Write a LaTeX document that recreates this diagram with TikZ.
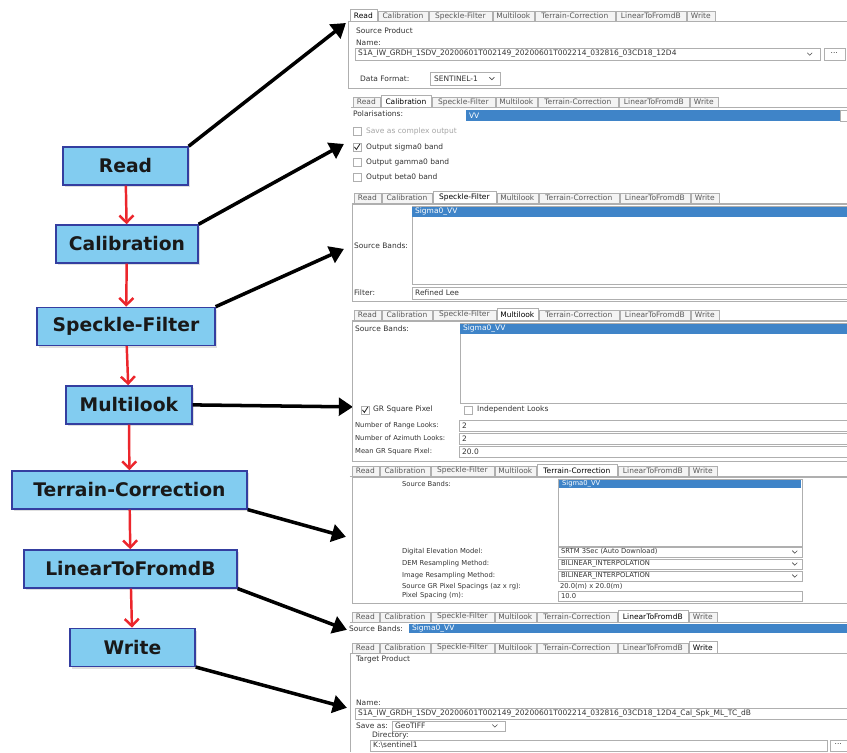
\documentclass[tikz,border=0pt]{standalone}
\usepackage{fontspec}
\setmainfont{DejaVu Sans}
\usetikzlibrary{arrows.meta,shadows}

\definecolor{boxfill}{RGB}{130,204,240}
\definecolor{boxline}{RGB}{52,62,160}
\definecolor{flowred}{RGB}{236,38,44}
\definecolor{selblue}{RGB}{63,132,200}
\definecolor{guigray}{RGB}{175,175,175}
\definecolor{tabgray}{RGB}{244,244,244}

\tikzset{
    procbox/.style={draw=boxline, fill=boxfill, line width=1.2pt, minimum height=1.14cm, inner sep=0pt,
        font=\fontsize{16}{19}\selectfont\bfseries, text=black!90,
        drop shadow={shadow xshift=2pt, shadow yshift=-2pt, opacity=0.25}},
    redflow/.style={draw=flowred, line width=2.1pt, -{Straight Barb[length=6pt,width=12pt]}},
    bigarrow/.style={line width=3pt, -{Triangle[length=12pt,width=15pt]}},
    gui/.style={font=\fontsize{6.4}{7}\selectfont, inner sep=0pt, anchor=west, text=black!80},
    guismall/.style={font=\fontsize{5.8}{6.5}\selectfont, inner sep=0pt, anchor=west, text=black!80},
    seltext/.style={gui, text=white},
    selsmall/.style={guismall, text=white},
    guiline/.style={draw=guigray, line width=0.4pt},
    field/.style={draw=guigray, fill=white, line width=0.4pt},
    tabbox/.style={draw=guigray, fill=tabgray, line width=0.4pt},
    tabsel/.style={draw=guigray, line width=0.4pt}
}

%% tab strip of one panel: x, y (top), selected tab, prefix for the node names
\newcommand{\tabrow}[4]{%
    \draw[guiline] (#1-2,#2+10) -- (847,#2+10);
    \foreach \s/\w/\tname [count=\i] in {0/27/Read,28/50/Calibration,79/63/Speckle-Filter,143/41/Multilook,185/80/Terrain-Correction,266/70/LinearToFromdB,337/28/Write}{%
        \ifnum\i=#3\relax
            \fill[white] (#1+\s,#2-1.5) rectangle (#1+\s+\w,#2+10.4);
            \draw[tabsel] (#1+\s,#2+10) -- (#1+\s,#2-1.5) -- (#1+\s+\w,#2-1.5) -- (#1+\s+\w,#2+10);
            \node[gui, anchor=center, text=black] (#4-\i) at (#1+\s+\w/2,#2+4.5) {\tname};
        \else
            \draw[tabbox] (#1+\s,#2) rectangle (#1+\s+\w,#2+10);
            \node[gui, anchor=center, text=black!65] (#4-\i) at (#1+\s+\w/2,#2+5) {\tname};
        \fi
    }%
}
%% check box: x (left), y (middle), 1 = ticked
\newcommand{\chkbox}[3]{%
    \draw[field] (#1,#2-4) rectangle (#1+8,#2+4);
    \ifnum#3=1\relax
        \draw[line width=0.7pt, black!85] (#1+1.5,#2) -- (#1+3.5,#2+2.5) -- (#1+7,#2-3);
    \fi
}
%% little chevron of a combo box
\newcommand{\dropv}[2]{\draw[line width=0.5pt, black!70] (#1-2.5,#2-1.2) -- (#1,#2+1.3) -- (#1+2.5,#2-1.2);}

\begin{document}
\begin{tikzpicture}[x=0.03cm, y=-0.03cm]
    \fill[white] (0,0) rectangle (847,752);

    %%the processing chain
    \node[procbox, minimum width=3.75cm] (read) at (125.5,166) {Read};
    \node[procbox, minimum width=4.26cm] (calib) at (127,244) {Calibration};
    \node[procbox, minimum width=5.34cm] (speckle) at (126,326.5) {Speckle-Filter};
    \node[procbox, minimum width=3.78cm] (multi) at (129,405) {Multilook};
    \node[procbox, minimum width=7.05cm] (terrain) at (129.5,490) {Terrain-Correction};
    \node[procbox, minimum width=6.39cm] (lindb) at (130.5,569) {LinearToFromdB};
    \node[procbox, minimum width=3.75cm] (write) at (132.5,647.5) {Write};

    \draw[redflow] (read) -- (calib);
    \draw[redflow] (calib) -- (speckle);
    \draw[redflow] (speckle) -- (multi);
    \draw[redflow] (multi) -- (terrain);
    \draw[redflow] (terrain) -- (lindb);
    \draw[redflow] (lindb) -- (write);

    %%arrows to the panels
    \coordinate (toRead) at (346,23);
    \coordinate (toCalib) at (344,144);
    \coordinate (toSpeckle) at (344,249);
    \coordinate (toMulti) at (353,407);
    \coordinate (toTerrain) at (346,537);
    \coordinate (toLindb) at (347,630);
    \coordinate (toWrite) at (347,708);
    \draw[bigarrow] (read.north east) -- (toRead);
    \draw[bigarrow] (calib.north east) -- (toCalib);
    \draw[bigarrow] (speckle.north east) -- (toSpeckle);
    \draw[bigarrow] (multi.east) -- (toMulti);
    \draw[bigarrow] (terrain.south east) -- (toTerrain);
    \draw[bigarrow] (lindb.south east) -- (toLindb);
    \draw[bigarrow] (write.south east) -- (toWrite);

    %%Read
    \tabrow{350}{11}{1}{rdTab}
    \draw[guiline] (348,21) -- (348,88) -- (847,88);
    \node[gui] (rdSrc) at (356,31) {Source Product};
    \node[gui] (rdNameLbl) at (356,43) {Name:};
    \draw[field] (355,48) rectangle (820,60);
    \node[gui] (rdName) at (358,54) {S1A\_IW\_GRDH\_1SDV\_20200601T002149\_20200601T002214\_032816\_03CD18\_12D4};
    \dropv{810}{54}
    \draw[field] (824,48) rectangle (845,60);
    \node[gui, anchor=center] (rdBtn) at (834.5,53) {...};
    \node[gui] (rdFmtLbl) at (360,78.5) {Data Format:};
    \draw[field] (430,72) rectangle (500,85);
    \node[gui] (rdFmt) at (434,78.5) {SENTINEL-1};
    \dropv{492}{78.5}

    %%Calibration
    \tabrow{353}{97}{2}{caTab}
    \node[gui] (caPolLbl) at (353,114) {Polarisations:};
    \fill[selblue] (466,110) rectangle (840,121);
    \node[seltext] (caPol) at (469,115.5) {VV};
    \draw[field] (840,110) rectangle (847,121);
    \chkbox{353}{131}{0}
    \node[gui, text=black!35] (caCplx) at (366,131) {Save as complex output};
    \chkbox{353}{147}{1}
    \node[gui] (caSig) at (366,147) {Output sigma0 band};
    \chkbox{353}{162}{0}
    \node[gui] (caGam) at (366,162) {Output gamma0 band};
    \chkbox{353}{177}{0}
    \node[gui] (caBet) at (366,177) {Output beta0 band};

    %%Speckle-Filter
    \tabrow{354}{193}{3}{spTab}
    \draw[guiline] (352,204) rectangle (847,301);
    \draw[field] (412,206) rectangle (847,284);
    \fill[selblue] (412,207) rectangle (847,217);
    \node[seltext] (spBand) at (415,212) {Sigma0\_VV};
    \node[gui] (spSrcLbl) at (354,246) {Source Bands:};
    \node[gui] (spFltLbl) at (354,293) {Filter:};
    \draw[field] (412,287) rectangle (847,299);
    \node[gui] (spFlt) at (415,293) {Refined Lee};

    %%Multilook
    \tabrow{354}{310}{4}{mlTab}
    \draw[guiline] (352,321) rectangle (847,461);
    \node[gui] (mlSrcLbl) at (355,329) {Source Bands:};
    \draw[field] (460,323) rectangle (847,403);
    \fill[selblue] (460,324) rectangle (847,334);
    \node[seltext] (mlBand) at (463,329) {Sigma0\_VV};
    \chkbox{361}{410}{1}
    \node[gui] (mlGr) at (373,410) {GR Square Pixel};
    \chkbox{464}{410}{0}
    \node[gui] (mlInd) at (477,410) {Independent Looks};
    \node[guismall] (mlRgLbl) at (355,425.5) {Number of Range Looks:};
    \draw[field] (459,420) rectangle (847,431);
    \node[gui] (mlRg) at (462,425.5) {2};
    \node[guismall] (mlAzLbl) at (355,438.5) {Number of Azimuth Looks:};
    \draw[field] (459,433) rectangle (847,444);
    \node[gui] (mlAz) at (462,438.5) {2};
    \node[guismall] (mlMeanLbl) at (355,451.5) {Mean GR Square Pixel:};
    \draw[field] (459,446) rectangle (847,457);
    \node[gui] (mlMean) at (462,451.5) {20.0};

    %%Terrain-Correction
    \tabrow{352}{466}{5}{tcTab}
    \draw[guiline] (352,477) rectangle (847,603);
    \node[guismall] (tcSrcLbl) at (402,484) {Source Bands:};
    \draw[field] (558,479) rectangle (802,546);
    \fill[selblue] (559,480) rectangle (801,488);
    \node[selsmall] (tcBand) at (562,484) {Sigma0\_VV};
    \node[guismall] (tcDemLbl) at (402,552) {Digital Elevation Model:};
    \draw[field] (558,547) rectangle (802,557);
    \node[guismall] (tcDem) at (561,552) {SRTM 3Sec (Auto Download)};
    \dropv{795}{552}
    \node[guismall] (tcDemResLbl) at (402,564) {DEM Resampling Method:};
    \draw[field] (558,559) rectangle (802,569);
    \node[guismall] (tcDemRes) at (561,564) {BILINEAR\_INTERPOLATION};
    \dropv{795}{564}
    \node[guismall] (tcImgResLbl) at (402,576) {Image Resampling Method:};
    \draw[field] (558,571) rectangle (802,581);
    \node[guismall] (tcImgRes) at (561,576) {BILINEAR\_INTERPOLATION};
    \dropv{795}{576}
    \node[guismall] (tcGrLbl) at (402,586.5) {Source GR Pixel Spacings (az x rg):};
    \node[guismall] (tcGr) at (560,586.5) {20.0(m) x 20.0(m)};
    \node[guismall] (tcPixLbl) at (402,596) {Pixel Spacing (m):};
    \draw[field] (558,591) rectangle (802,601);
    \node[guismall] (tcPix) at (561,596) {10.0};

    %%LinearToFromdB
    \tabrow{352}{612}{6}{ldTab}
    \node[gui] (ldSrcLbl) at (349,628.5) {Source Bands:};
    \fill[selblue] (409,624) rectangle (847,633);
    \node[seltext] (ldBand) at (412,628.5) {Sigma0\_VV};

    %%Write
    \tabrow{352}{643}{7}{wrTab}
    \draw[guiline] (350,654) -- (350,752);
    \node[gui] (wrTgt) at (356,660) {Target Product};
    \node[gui] (wrNameLbl) at (356,703) {Name:};
    \draw[field] (355,708) rectangle (847,719);
    \node[gui] (wrName) at (358,713.5) {S1A\_IW\_GRDH\_1SDV\_20200601T002149\_20200601T002214\_032816\_03CD18\_12D4\_Cal\_Spk\_ML\_TC\_dB};
    \node[gui] (wrSaveLbl) at (356,726) {Save as:};
    \draw[field] (392,721) rectangle (505,731);
    \node[gui] (wrFmt) at (395,726) {GeoTIFF};
    \dropv{495}{726}
    \node[gui] (wrDirLbl) at (372,736) {Directory:};
    \draw[field] (370,740) rectangle (827,751);
    \node[gui] (wrDir) at (373,745.5) {K:\textbackslash sentinel1};
    \draw[field] (830,740) rectangle (847,751);
    \node[gui, anchor=center] (wrBtn) at (838.5,744.5) {...};
\end{tikzpicture}
\end{document}
